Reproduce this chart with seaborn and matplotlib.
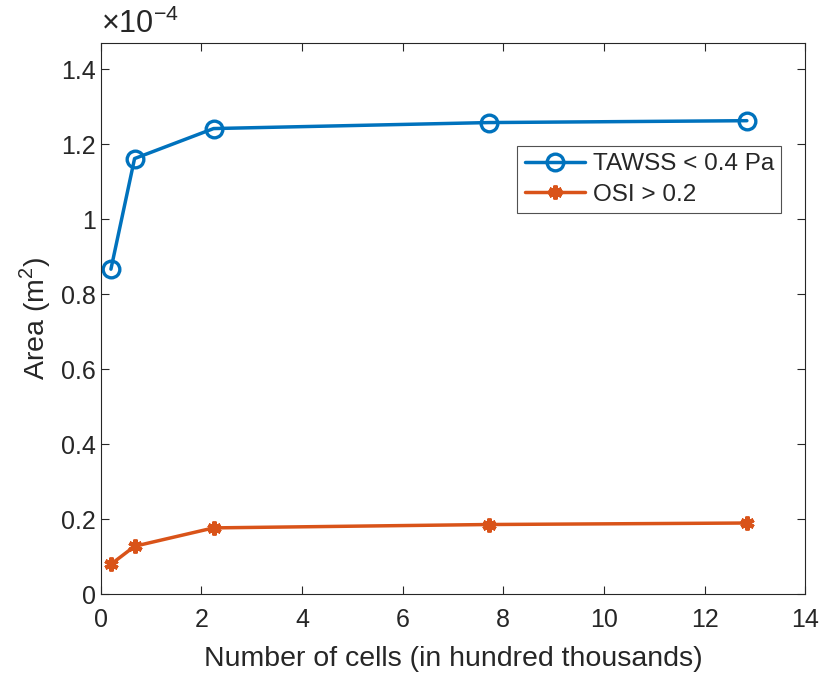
import seaborn as sns
import matplotlib.pyplot as plt
from matplotlib.ticker import FormatStrFormatter

# Hücre sayısı (yüz binler)
hucre = [0.2, 0.67, 2.24, 7.71, 12.84]
tawss = [0.867, 1.162, 1.242, 1.258, 1.263]
osi = [0.080, 0.128, 0.177, 0.186, 0.190]
etiketler = ["TAWSS < 0.4 Pa", "OSI > 0.2"]

sns.set_style("ticks")
plt.rcParams["font.family"] = ["Liberation Sans Narrow", "Liberation Sans", "DejaVu Sans"]
plt.rcParams["mathtext.fontset"] = "custom"
plt.rcParams["mathtext.rm"] = "Liberation Sans"

fig = plt.figure(figsize=(8.2, 6.73), dpi=100)
ax = fig.add_axes([0.123, 0.117, 0.859, 0.819])

sns.lineplot(x=hucre, y=tawss, color="#0072BD", marker="o", markersize=12,
             markerfacecolor="none", markeredgewidth=2.4, markeredgecolor="#0072BD",
             linewidth=2.5, label=etiketler[0], ax=ax)
sns.lineplot(x=hucre, y=osi, color="#D95319", marker=(6, 2, 0), markersize=10,
             markeredgewidth=3, markeredgecolor="#D95319",
             linewidth=2.5, label=etiketler[1], ax=ax)

ax.set_xlim(0, 14)
ax.set_ylim(0, 1.47)
ax.set_xticks(range(0, 15, 2))
ax.set_yticks([0, 0.2, 0.4, 0.6, 0.8, 1.0, 1.2, 1.4])
ax.yaxis.set_major_formatter(FormatStrFormatter("%g"))
ax.tick_params(direction="in", top=True, right=True, labelsize=18,
               colors="#262626", length=6, width=0.8)
ax.tick_params(axis="x", pad=10)
for k in ax.spines.values():
    k.set_color("#262626")
    k.set_linewidth(0.8)

ax.set_xlabel("Number of cells (in hundred thousands)", fontsize=20.5,
              color="#262626", labelpad=10)
ax.set_ylabel("Area (m$^2$)", fontsize=20.5, color="#262626", labelpad=6)
ax.text(0.0, 1.005, r"$\times10^{-4}$", transform=ax.transAxes, fontsize=22,
        color="#262626", ha="left", va="bottom")

leg = ax.legend(loc="upper right", bbox_to_anchor=(0.983, 0.835), fontsize=17.5,
                frameon=True, fancybox=False, edgecolor="#262626",
                handlelength=2.5, handletextpad=0.3, borderpad=0.3,
                labelspacing=0.35)
leg.get_frame().set_linewidth(0.8)

plt.savefig("out.png", dpi=100)
